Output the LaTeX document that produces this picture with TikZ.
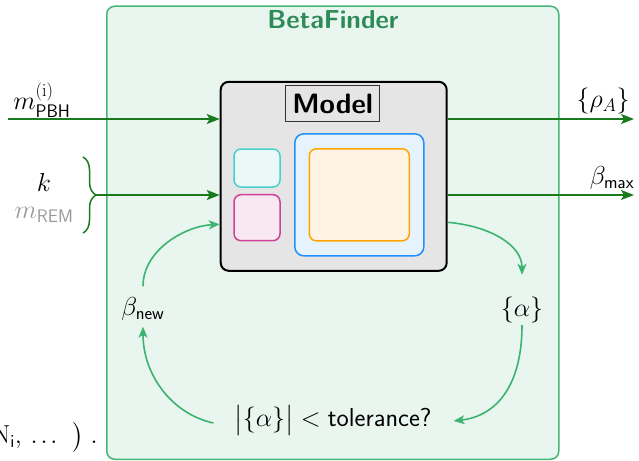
\RequirePackage{fix-cm}
\documentclass[tikz,border=0pt]{standalone}
\usepackage{amsmath}
\usetikzlibrary{arrows.meta,calc,decorations.pathreplacing}
\definecolor{outerfill}{RGB}{233,246,239}
\definecolor{outerline}{RGB}{70,182,120}
\definecolor{titlegreen}{RGB}{46,139,87}
\definecolor{darkgr}{RGB}{25,122,30}
\definecolor{cycgreen}{RGB}{60,179,113}
\definecolor{cyanline}{RGB}{72,209,204}
\definecolor{cyanfill}{RGB}{234,248,248}
\definecolor{magline}{RGB}{205,65,150}
\definecolor{magfill}{RGB}{249,232,242}
\definecolor{blueline}{RGB}{30,144,255}
\definecolor{bluefill}{RGB}{230,242,252}
\definecolor{orangeline}{RGB}{255,165,0}
\definecolor{orangefill}{RGB}{255,244,227}
\newcommand{\bigtxt}{\fontsize{26}{30}\selectfont}
\begin{document}
\begin{tikzpicture}[x=1pt,y=-1pt,
  lbl/.style={font=\bigtxt, inner sep=0pt},
  outerbox/.style={draw=outerline, fill=outerfill, line width=1.5pt, rounded corners=8pt},
  modelbox/.style={draw=black, fill=gray!20, line width=2pt, rounded corners=8pt},
  inbox/.style={line width=1.5pt, rounded corners=7pt},
  darkarrow/.style={draw=darkgr, line width=1.6pt, -{Stealth[length=13pt,width=10pt,inset=3pt]}},
  cyc/.style={draw=cycgreen, line width=1.6pt, -{Stealth[length=11pt,width=9pt,inset=3pt]}},
  bracestyle/.style={draw=darkgr, line width=1.5pt, decorate, decoration={brace, amplitude=13pt}}
]
\useasboundingbox (0,0) rectangle (639,460);
% outer box
\node[outerbox, minimum width=452pt, minimum height=453pt, anchor=north west] (finder) at (106,5.5) {};
\node[font=\fontsize{26}{30}\selectfont\sffamily\bfseries, text=titlegreen, inner sep=0pt] (title) at (333,20) {BetaFinder};
% model
\node[modelbox, minimum width=226pt, minimum height=189pt] (model) at (333.7,176.3) {};
\node[draw=gray!40!black, line width=1.2pt, minimum width=94pt, minimum height=36pt, inner sep=0pt,
      font=\fontsize{28}{30}\selectfont\sffamily\bfseries] (modellabel) at (332.7,103.7) {Model};
\node[inbox, draw=cyanline, fill=cyanfill, minimum width=46pt, minimum height=38pt] (cyanbox) at (257,168) {};
\node[inbox, draw=magline, fill=magfill, minimum width=46pt, minimum height=46pt] (magbox) at (257,217.7) {};
\node[inbox, draw=blueline, fill=bluefill, minimum width=129pt, minimum height=122pt, rounded corners=9pt] (bluebox) at (359.3,194.8) {};
\node[inbox, draw=orangeline, fill=orangefill, minimum width=100pt, minimum height=92pt] (orangebox) at (359.3,194.8) {};
% inputs
\coordinate (in1) at (8,119);
\draw[darkarrow] (in1) -- (in1 -| model.west);
\node[lbl] (mpbh) at (42,100) {$m_{\mathsf{PBH}}^{(\mathrm{i})}$};
\draw[bracestyle] (83,157) -- (83,233);
\coordinate (bt) at (96,195);
\draw[darkarrow] (bt) -- (bt -| model.west);
\node[lbl] (k) at (44,182) {$k$};
\node[lbl, text=gray!80] (mrem) at (44,215) {$m_{\mathsf{REM}}$};
% outputs
\coordinate (out1) at (634,119);
\draw[darkarrow] (model.east |- out1) -- (out1);
\node[lbl] (rho) at (603,101) {$\{\rho_A\}$};
\coordinate (out2) at (634,195);
\draw[darkarrow] (model.east |- out2) -- (out2);
\node[lbl] (betamax) at (612,178) {$\beta_{\mathsf{max}}$};
% cycle
\node[lbl] (alpha) at (522,310) {$\{\alpha\}$};
\node[lbl] (betanew) at (143,309) {$\beta_{\mathsf{new}}$};
\node[lbl] (tol) at (333,420) {$\bigl|\{\alpha\}\bigr| < \textsf{tolerance?}$};
\draw[cyc, shorten >=22pt] ($(model.east)+(0,46)$) .. controls (490,226) and (522,245) .. (alpha.north);
\draw[cyc, shorten <=2pt] (alpha.south) .. controls (522,385) and (497,416) .. ($(tol.east)+(22,1)$);
\draw[cyc] ($(tol.west)+(-21,3)$) .. controls (172,414) and (143,375) .. ($(betanew.south)+(0,6)$);
\draw[cyc] ($(betanew.north)+(0,-11)$) .. controls (143,250) and (185,226) .. ($(model.west)+(0,48)$);
% cropped text
\node[lbl, anchor=east] (frag) at (98,437) {$\mathrm{N}_{\mathsf{i}},\,.\mkern2mu.\mkern2mu.\;\;\bigr)\;.$};
\end{tikzpicture}
\end{document}
